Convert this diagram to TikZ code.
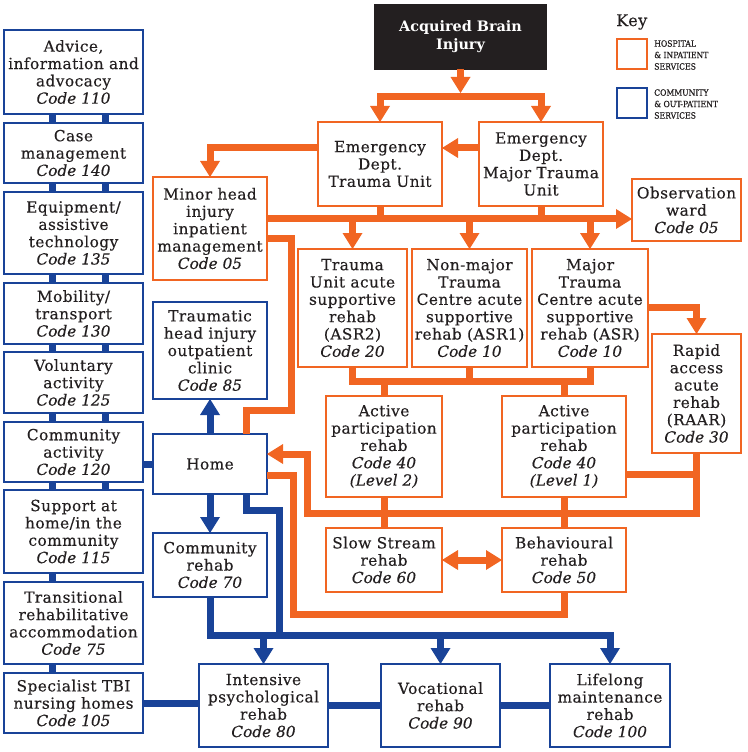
\documentclass[tikz,border=0pt]{standalone}
\usepackage{fontspec}
\setmainfont{DejaVu Serif}[UprightFeatures={LetterSpace=3,FakeBold=0.3}, ItalicFeatures={FakeBold=0.3}]
\newfontfamily\keyfont{DejaVu Serif Condensed}[FakeBold=0.6]
\usetikzlibrary{arrows.meta,calc}
\definecolor{ora}{RGB}{241,101,34}
\definecolor{blu}{RGB}{25,67,152}
\definecolor{ink}{RGB}{35,31,32}
\tikzset{
 box/.style={draw, line width=0.9pt, inner sep=0pt, outer sep=0pt, align=center, text=ink, fill=white, font=\fontsize{11.5}{13}\selectfont},
 obox/.style={box, draw=ora},
 bbox/.style={box, draw=blu},
 abibox/.style={box, draw=ink, fill=ink, text=white, font=\bfseries\fontsize{10.8}{13.5}\selectfont},
 oconn/.style={draw=ora, line width=5.25pt},
 bconn/.style={draw=blu, line width=5.25pt},
 bigtri/.tip={Triangle[width=15pt,length=12pt,line width=0pt]},
 keytext/.style={inner sep=0pt, align=left, text=ink, font=\keyfont\fontsize{6.4}{8.6}\selectfont},
}
\newcommand\bx[7]{\node[#2, minimum width={(#5-#3)*0.75pt}, minimum height={(#6-#4)*0.75pt}] (#1) at ({(#3+#5)/2},{(#4+#6)/2}) {#7};}
\begin{document}
\begin{tikzpicture}[x=0.75pt,y=-0.75pt]
\useasboundingbox (0,0) rectangle (747,752);
% left column
\bx{adv}{bbox}{4}{30}{143}{114}{Advice,\\information and\\advocacy\\\textit{Code 110}}
\bx{case}{bbox}{4}{123}{143}{183}{Case\\management\\\textit{Code 140}}
\bx{equip}{bbox}{4}{192}{143}{274}{Equipment/\\assistive\\technology\\\textit{Code 135}}
\bx{mob}{bbox}{4}{283}{143}{344}{Mobility/\\transport\\\textit{Code 130}}
\bx{vol}{bbox}{4}{352}{143}{413}{Voluntary\\activity\\\textit{Code 125}}
\bx{cact}{bbox}{4}{422}{143}{482}{Community\\activity\\\textit{Code 120}}
\bx{supp}{bbox}{4}{490}{143}{573}{Support at\\home/in the\\community\\\textit{Code 115}}
\bx{trans}{bbox}{4}{582}{143}{664}{Transitional\\rehabilitative\\accommodation\\\textit{Code 75}}
\bx{spec}{bbox}{4}{673}{143}{733}{Specialist TBI\\nursing homes\\\textit{Code 105}}
% second column
\bx{minor}{obox}{153}{177}{267}{280}{Minor head\\injury\\inpatient\\management\\\textit{Code 05}}
\bx{thi}{bbox}{153}{302}{267}{399}{Traumatic\\head injury\\outpatient\\clinic\\\textit{Code 85}}
\bx{home}{bbox}{153}{434}{267}{494}{Home}
\bx{crehab}{bbox}{153}{533}{267}{597}{Community\\rehab\\\textit{Code 70}}
% top
\bx{abi}{abibox}{375}{5}{546}{69}{Acquired Brain\\Injury}
\bx{edtu}{obox}{318}{122}{442}{206}{Emergency\\Dept.\\Trauma Unit}
\bx{edmtu}{obox}{479}{122}{603}{206}{Emergency\\Dept.\\Major Trauma\\Unit}
\bx{obs}{obox}{632}{179}{741}{241}{Observation\\ward\\\textit{Code 05}}
% acute row
\bx{asr2}{obox}{298}{249}{407}{367}{Trauma\\Unit acute\\supportive\\rehab\\(ASR2)\\\textit{Code 20}}
\bx{asr1}{obox}{412}{249}{527}{367}{Non-major\\Trauma\\Centre acute\\supportive\\rehab (ASR1)\\\textit{Code 10}}
\bx{asr}{obox}{532}{249}{648}{367}{Major\\Trauma\\Centre acute\\supportive\\rehab (ASR)\\\textit{Code 10}}
\bx{raar}{obox}{652}{334}{741}{453}{Rapid\\access\\acute\\rehab\\(RAAR)\\\textit{Code 30}}
% active
\bx{ap2}{obox}{326}{396}{442}{497}{Active\\participation\\rehab\\\textit{Code 40}\\\textit{(Level 2)}}
\bx{ap1}{obox}{502}{396}{626}{497}{Active\\participation\\rehab\\\textit{Code 40}\\\textit{(Level 1)}}
\bx{slow}{obox}{326}{528}{442}{592}{Slow Stream\\rehab\\\textit{Code 60}}
\bx{beh}{obox}{502}{528}{626}{592}{Behavioural\\rehab\\\textit{Code 50}}
% bottom row
\bx{ipr}{bbox}{199}{664}{328}{747}{Intensive\\psychological\\rehab\\\textit{Code 80}}
\bx{voc}{bbox}{381}{664}{500}{747}{Vocational\\rehab\\\textit{Code 90}}
\bx{life}{bbox}{550}{664}{670}{747}{Lifelong\\maintenance\\rehab\\\textit{Code 100}}
% key
\node[anchor=west, inner sep=0pt, text=ink, font=\fontsize{12}{14}\selectfont] (key) at (616,22) {Key};
\bx{ko}{obox}{617}{39}{647}{69}{}
\bx{kb}{bbox}{617}{88}{647}{118}{}
\node[keytext, anchor=west] (kot) at (654,55) {HOSPITAL\\\&~INPATIENT\\SERVICES};
\node[keytext, anchor=west] (kbt) at (654,104) {COMMUNITY\\\&~OUT-PATIENT\\SERVICES};

% ---------- orange connectors ----------
\draw[oconn,-bigtri] (abi.south) -- (abi.south |- 0,93);
\draw[oconn,bigtri-bigtri] (edtu.north) -- (edtu.north |- 0,97) -- (edmtu.north |- 0,97) -- (edmtu.north);
\draw[oconn,-bigtri] (edmtu.west |- 0,148) -- (edtu.east |- 0,148);
\draw[oconn,-bigtri] (edtu.west |- 0,148) -| (minor.north);
\draw[oconn,-bigtri] (minor.east |- 0,219) -- (obs.west |- 0,219);
\draw[oconn] (edtu.south) -- (edtu.south |- 0,219);
\draw[oconn] (edmtu.south) -- (edmtu.south |- 0,219);
\draw[oconn,-bigtri] (asr2.north |- 0,219) -- (asr2.north);
\draw[oconn,-bigtri] (asr1.north |- 0,219) -- (asr1.north);
\draw[oconn,-bigtri] (asr.north |- 0,219) -- (asr.north);
\draw[oconn] (minor.east |- 0,238) -- (291,238) -- (291,410) -- (246,410) -- (246,0 |- home.north);
\draw[oconn,-bigtri] (asr.east |- 0,307) -| (raar.north);
\draw[oconn] (asr2.south) |- (asr.south |- 0,381) -- (asr.south);
\draw[oconn] (asr1.south) -- (asr1.south |- 0,381);
\draw[oconn] (ap2.north |- 0,381) -- (ap2.north);
\draw[oconn] (ap1.north |- 0,381) -- (ap1.north);
\draw[oconn,-bigtri] (raar.south) -- (raar.south |- 0,513) -- (307,513) -- (307,454) -- (home.east |- 0,454);
\draw[oconn] (ap1.east |- 0,474) -- (raar.south |- 0,474);
\draw[oconn] (ap2.south) -- (slow.north);
\draw[oconn] (ap1.south) -- (beh.north);
\draw[oconn] (home.east |- 0,475) -- (293,475) -- (293,614) -- (beh.south |- 0,614) -- (beh.south);
\draw[oconn,bigtri-bigtri] (slow.east) -- (beh.west);

% ---------- blue connectors ----------
\foreach \a/\b in {adv/case,case/equip,equip/mob,mob/vol,vol/cact,cact/supp}{
  \draw[bconn] (52,0 |- \a.south) -- (52,0 |- \b.north);
  \draw[bconn] (105,0 |- \a.south) -- (105,0 |- \b.north);
}
\draw[bconn] (52,0 |- supp.south) -- (52,0 |- trans.north);
\draw[bconn] (52,0 |- trans.south) -- (52,0 |- spec.north);
\draw[bconn] (home.west) -- (home.west -| cact.east);
\draw[bconn,-bigtri] (home.north) -- (thi.south);
\draw[bconn,-bigtri] (home.south) -- (crehab.north);
\draw[bconn] (246,0 |- home.south) -- (246,510) -- (279,510) -- (279,635);
\draw[bconn,-bigtri] (crehab.south) |- (life.north |- 0,635) -- (life.north);
\draw[bconn,-bigtri] (ipr.north |- 0,635) -- (ipr.north);
\draw[bconn,-bigtri] (voc.north |- 0,635) -- (voc.north);
\draw[bconn] (spec.east) -- (spec.east -| ipr.west);
\draw[bconn] (ipr.east) -- (voc.west);
\draw[bconn] (voc.east) -- (life.west);
\end{tikzpicture}
\end{document}
